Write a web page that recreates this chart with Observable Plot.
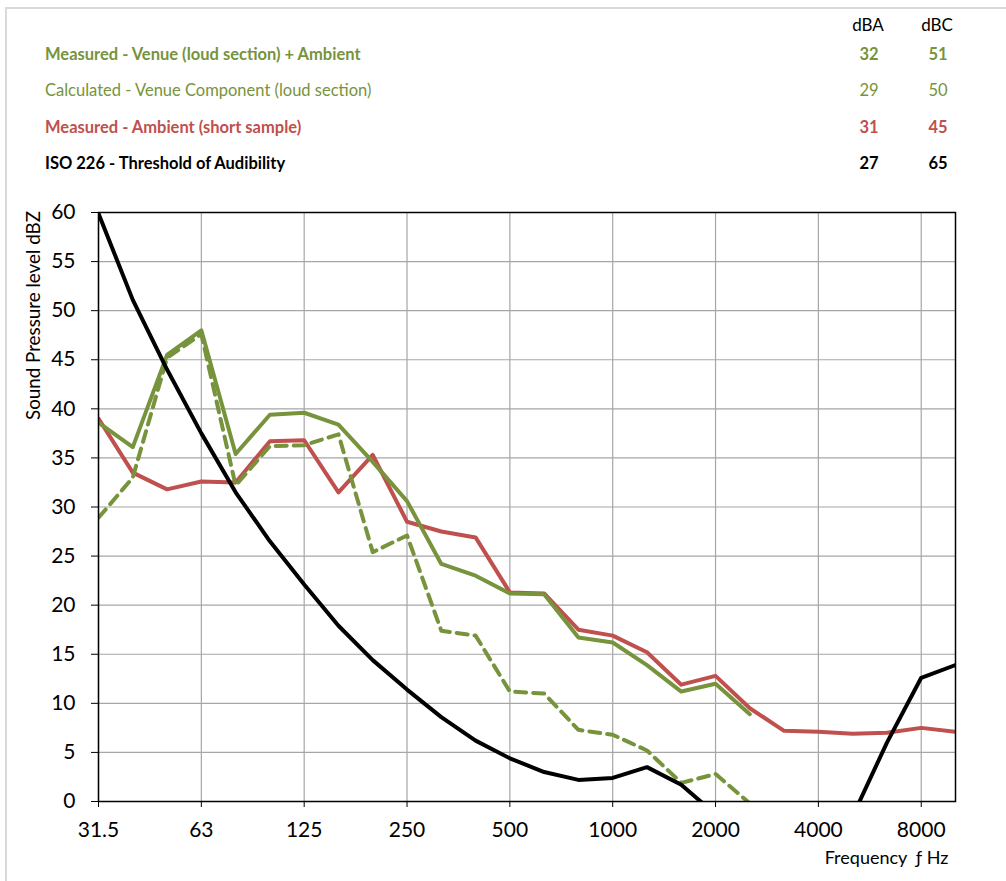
<!DOCTYPE html>
<html>
<head>
<meta charset="utf-8">
<script src="https://cdn.jsdelivr.net/npm/d3@7"></script>
<script src="https://cdn.jsdelivr.net/npm/@observablehq/plot@0.6"></script>
<style>
  html, body { margin: 0; padding: 0; background: white; overflow: hidden; }
  body { width: 1006px; height: 881px; position: relative; font-family: Lato, "Open Sans", sans-serif; }
  #frame { position: absolute; left: 5px; top: 7px; width: 1100px; height: 1000px; border: 2px solid #d9d9d9; pointer-events: none; }
  #legend { position: relative; height: 190px; }
  .row { position: absolute; left: 45px; font-size: 16.5px; line-height: 20px; white-space: nowrap; }
  .num { position: absolute; font-size: 16.5px; line-height: 20px; width: 40px; text-align: center; }
  .hdr { position: absolute; font-size: 17px; line-height: 20px; width: 50px; text-align: center; color: #000; }
  .b { font-weight: bold; }
</style>
</head>
<body>
<div id="frame"></div>
<div id="legend"></div>
<div id="chart"></div>
<script>
// Third-octave bands (Hz)
const bands = ["31.5","40","50","63","80","100","125","160","200","250","315","400","500","630","800","1000","1250","1600","2000","2500","3150","4000","5000","6300","8000","10000"];
const xTickLabels = ["31.5","63","125","250","500","1000","2000","4000","8000"];
const yTicks = [0,5,10,15,20,25,30,35,40,45,50,55,60];

// Series values (dBZ) per band
const measuredVenueAmbient = [38.6,36.1,45.5,48.0,35.4,39.4,39.6,38.4,34.6,30.6,24.2,23.0,21.2,21.1,16.7,16.2,13.9,11.2,12.0,8.9];
const calculatedVenue = [28.9,33.0,45.2,47.6,32.2,36.2,36.3,37.4,25.4,27.1,17.4,16.9,11.2,11.0,7.3,6.8,5.2,1.9,2.8,-0.2];
const measuredAmbient = [39.0,33.5,31.8,32.6,32.5,36.7,36.8,31.5,35.3,28.5,27.5,26.9,21.3,21.2,17.5,16.9,15.2,11.9,12.8,9.5,7.2,7.1,6.9,7.0,7.5,7.1];
const iso226 = [59.9,51.1,44.0,37.5,31.5,26.5,22.1,17.9,14.4,11.4,8.6,6.2,4.4,3.0,2.2,2.4,3.5,1.7,-1.3,-4.2,-6.0,-5.4,-1.5,6.0,12.6,13.9];

// Legend
const seriesNames = ["Measured - Venue (loud section) + Ambient","Calculated - Venue Component (loud section)","Measured - Ambient (short sample)","ISO 226 - Threshold of Audibility"];
const dBA = [32,29,31,27];
const dBC = [51,50,45,65];
const seriesColors = ["#77933c","#77933c","#c0504d","#000000"];
const seriesBold = [true,false,true,true];

const legend = document.getElementById("legend");
const rowY = [54,90,127,163];
legend.insertAdjacentHTML("beforeend", `<div class="hdr" style="left:843px;top:${25-10}px">dBA</div><div class="hdr" style="left:912px;top:${25-10}px">dBC</div>`);
seriesNames.forEach((n, k) => {
  const cls = seriesBold[k] ? "b" : "";
  legend.insertAdjacentHTML("beforeend",
    `<div class="row ${cls}" style="top:${rowY[k]-10}px;color:${seriesColors[k]}">${n}</div>` +
    `<div class="num ${cls}" style="left:849px;top:${rowY[k]-10}px;color:${seriesColors[k]}">${dBA[k]}</div>` +
    `<div class="num ${cls}" style="left:918px;top:${rowY[k]-10}px;color:${seriesColors[k]}">${dBC[k]}</div>`);
});

const toRows = arr => arr.map((v, i) => ({i, v}));
const xTickPos = xTickLabels.map(t => bands.indexOf(t));

const plot = Plot.plot({
  width: 1006,
  height: 691,
  marginTop: 22,
  marginBottom: 80,
  marginLeft: 98,
  marginRight: 51,
  style: {background: "transparent", fontFamily: "Lato, 'Open Sans', sans-serif", overflow: "visible"},
  x: {domain: [0, bands.length - 1]},
  y: {domain: [0, 60]},
  marks: [
    Plot.gridY(yTicks, {stroke: "#a6a6a6", strokeOpacity: 1, strokeWidth: 1.2}),
    Plot.gridX(xTickPos, {stroke: "#a6a6a6", strokeOpacity: 1, strokeWidth: 1.2}),
    Plot.line(toRows(measuredAmbient), {x: "i", y: "v", stroke: "#c0504d", strokeWidth: 4, clip: true}),
    Plot.line(toRows(calculatedVenue), {x: "i", y: "v", stroke: "#77933c", strokeWidth: 4, strokeDasharray: "11,7", clip: true}),
    Plot.line(toRows(measuredVenueAmbient), {x: "i", y: "v", stroke: "#77933c", strokeWidth: 4, clip: true}),
    Plot.line(toRows(iso226), {x: "i", y: "v", stroke: "#000000", strokeWidth: 4, clip: true}),
    Plot.frame({stroke: "black", strokeWidth: 1.5}),
    Plot.axisY({ticks: yTicks, tickSize: 7, tickPadding: 16, fontSize: 21, label: null, stroke: "black", strokeOpacity: 1, color: "black"}),
    Plot.axisX({ticks: xTickPos, tickFormat: i => bands[i], tickSize: 6, tickPadding: 15, fontSize: 21, label: null, strokeOpacity: 1, color: "black"}),
    Plot.text(["Sound Pressure level dBZ"], {frameAnchor: "top-left", dx: -65, dy: 103, rotate: -90, textAnchor: "middle", lineAnchor: "middle", fontSize: 18.8, fill: "black"}),
    Plot.text(["Frequency  ƒ Hz"], {frameAnchor: "bottom-right", dx: -7, dy: 57, textAnchor: "end", lineAnchor: "middle", fontSize: 18, fill: "black"})
  ]
});
document.getElementById("chart").appendChild(plot);
</script>
</body>
</html>
